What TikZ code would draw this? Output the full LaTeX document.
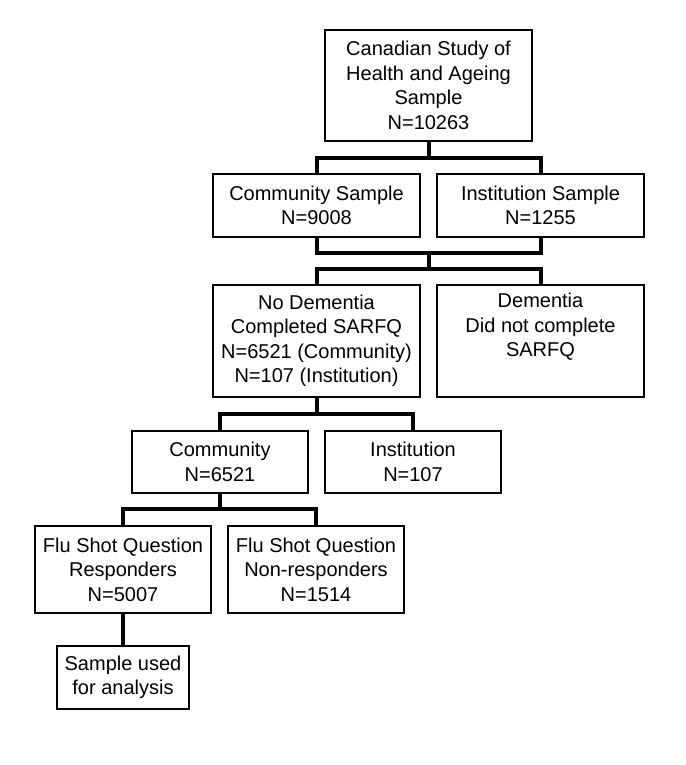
\documentclass[tikz,border=0pt]{standalone}
\usepackage{fontspec}
\setmainfont{Liberation Sans}
\begin{document}
\begin{tikzpicture}[x=1pt,y=1pt,
  box/.style={draw=black, line width=1.2pt, fill=white, align=center, inner sep=0pt,
    font=\fontsize{20}{24.5}\selectfont},
  conn/.style={draw=black, line width=4pt, line cap=rect, line join=miter}]
\useasboundingbox[fill=white] (0,0) rectangle (685,-765);
\node[box, minimum width=207, minimum height=111] (b1) at (428.5,-85.5) {Canadian Study of\\Health and Ageing\\Sample\\N=10263};
\node[box, minimum width=207, minimum height=63] (b2) at (316.5,-205.5) {Community Sample\\N=9008};
\node[box, minimum width=207, minimum height=63] (b3) at (540.5,-205.5) {Institution Sample\\N=1255};
\node[box, minimum width=207, minimum height=112] (b4) at (316.5,-341) {No Dementia\\Completed SARFQ\\N=6521 (Community)\\N=107 (Institution)};
\node[box, minimum width=207, minimum height=112] (b5) at (540.5,-341) {Dementia\\Did not complete\\SARFQ\\\strut};
\node[box, minimum width=176, minimum height=62] (b6) at (220,-462) {Community\\N=6521};
\node[box, minimum width=176, minimum height=62] (b7) at (413,-462) {Institution\\N=107};
\node[box, minimum width=176, minimum height=87] (b8) at (123,-569.5) {Flu Shot Question\\Responders\\N=5007};
\node[box, minimum width=176, minimum height=87] (b9) at (316,-569.5) {Flu Shot Question\\Non-responders\\N=1514};
\node[box, minimum width=132, minimum height=63] (b10) at (123,-677.5) {Sample used\\for analysis};

\coordinate (j1) at ([yshift=-16]b1.south);
\coordinate (j2a) at (428.5,-253);
\coordinate (j2b) at (428.5,-269);
\coordinate (j3) at ([yshift=-16]b4.south);
\coordinate (j4) at ([yshift=-15]b6.south);

\draw[conn] (b1.south) -- (j1);
\draw[conn] (b2.north) |- (j1) -| (b3.north);
\draw[conn] (b2.south) |- (j2a) -| (b3.south);
\draw[conn] (j2a) -- (j2b);
\draw[conn] (b4.north) |- (j2b) -| (b5.north);
\draw[conn] (b4.south) -- (j3);
\draw[conn] (b6.north) |- (j3) -| (b7.north);
\draw[conn] (b6.south) -- (j4);
\draw[conn] (b8.north) |- (j4) -| (b9.north);
\draw[conn] (b8.south) -- (b10.north);
\end{tikzpicture}
\end{document}
